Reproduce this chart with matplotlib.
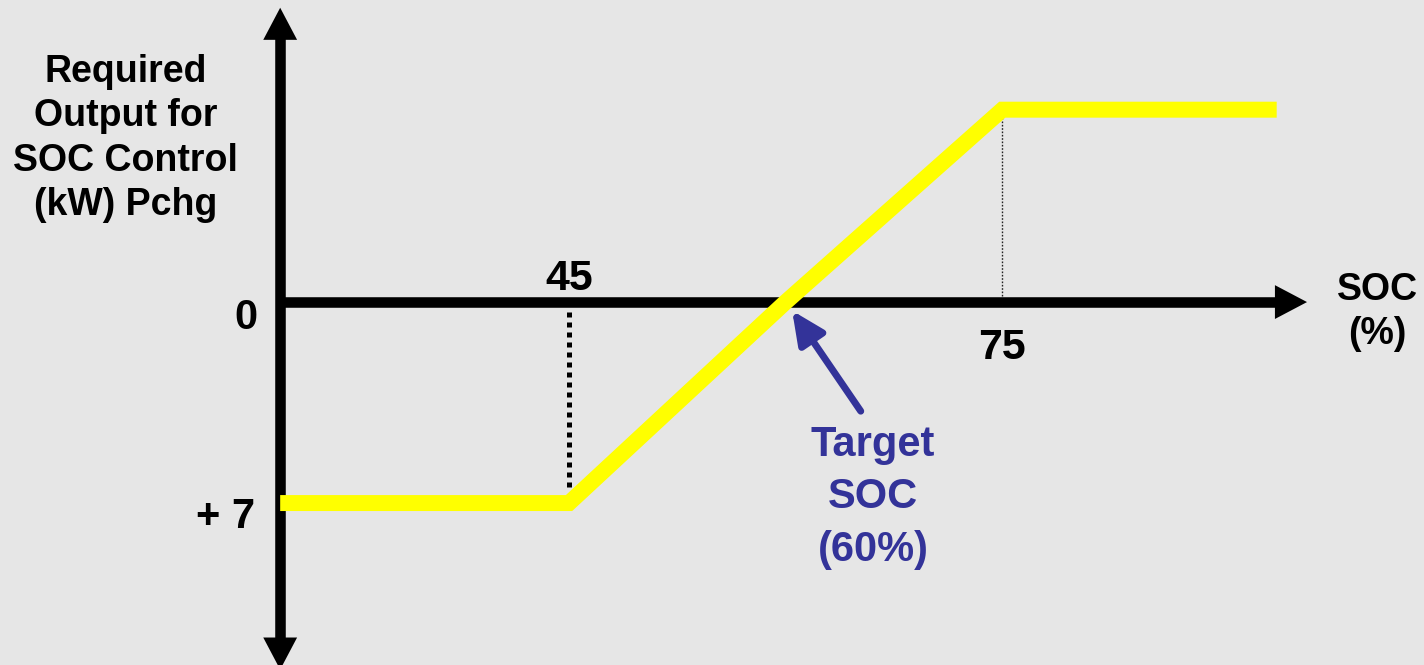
import matplotlib
matplotlib.use("Agg")
import matplotlib.pyplot as plt

plt.rcParams['font.family'] = ['Liberation Sans', 'DejaVu Sans']
plt.rcParams['font.weight'] = 'bold'

# SOC control curve: required output vs state of charge
soc = [25, 45, 60, 75, 94]
pchg = [7, 7, 0, -6.7, -6.7]

soc_ticks = [45, 75]
pchg_ticks = [0, 7]
pchg_tick_labels = ['0', '+ 7']
target_soc = 60

bg = '#e6e6e6'
yellow = '#ffff00'
navy = '#333399'

fig = plt.figure(figsize=(14.24, 6.65), dpi=100, facecolor=bg)
ax = fig.add_axes([0, 0, 1, 1])
ax.set_facecolor(bg)
ax.set_xlim(5.6, 104.2)
ax.set_ylim(12.64, -10.52)
ax.axis('off')


def arrow_head(tip, base, size):
    ax.annotate('', xy=tip, xytext=base, annotation_clip=False,
                arrowprops=dict(arrowstyle='-|>,head_length=1.1,head_width=0.58',
                                mutation_scale=size, lw=0, color='black',
                                shrinkA=0, shrinkB=0), zorder=5)


# axes drawn as thick arrows
y_axis_x = soc[0]
x_tip = 96.1
ax.plot([y_axis_x, x_tip - 1.5], [0, 0], color='black', lw=7.6,
        solid_capstyle='butt', zorder=4)
arrow_head((x_tip, 0), (x_tip - 3, 0), 21)
ax.plot([y_axis_x, y_axis_x], [-9.5, 12.0], color='black', lw=7.6,
        solid_capstyle='butt', zorder=4)
arrow_head((y_axis_x, -10.25), (y_axis_x, -8), 21)
arrow_head((y_axis_x, 12.8), (y_axis_x, 10.5), 21)

# guide lines at the break points
ax.plot([soc[1], soc[1]], [0.35, pchg[1] - 0.5], color='black', lw=3.6,
        dashes=(1, 1), dash_capstyle='butt', zorder=3)
ax.plot([soc[3], soc[3]], [pchg[3] + 0.05, -0.2], color='#222222', lw=1.0,
        dashes=(1.2, 1.2), zorder=3)

# the curve
ax.plot(soc, pchg, color=yellow, lw=11.5, solid_joinstyle='miter',
        solid_capstyle='butt', zorder=6)

# tick labels
ax.text(soc_ticks[0], -0.8, str(soc_ticks[0]), ha='center', va='center',
        fontsize=31)
ax.text(soc_ticks[1], 1.6, str(soc_ticks[1]), ha='center', va='center',
        fontsize=31)
ax.text(22.6, pchg_ticks[0] + 0.55, pchg_tick_labels[0], ha='center',
        va='center', fontsize=30)
ax.text(21.2, pchg_ticks[1] + 0.5, pchg_tick_labels[1], ha='center',
        va='center', fontsize=30)

# axis titles
ax.text(14.3, -5.7, 'Required\nOutput for\nSOC Control\n(kW) Pchg',
        ha='center', va='center', fontsize=27, linespacing=1.3)
ax.text(101.0, 0.35, 'SOC\n(%)', ha='center', va='center', fontsize=27,
        linespacing=1.3)

# target SOC callout
ax.annotate('', xy=(target_soc + 0.45, 0.3), xytext=(65.2, 3.8),
            arrowprops=dict(arrowstyle='-|>,head_length=0.9,head_width=0.42',
                            mutation_scale=22, lw=5, color=navy,
                            shrinkA=0, shrinkB=0), zorder=7)
ax.text(66.05, 6.8, 'Target\nSOC\n(' + str(target_soc) + '%)', ha='center',
        va='center', fontsize=30, color=navy, linespacing=1.4)

fig.savefig('out.png', dpi=100, facecolor=bg)
